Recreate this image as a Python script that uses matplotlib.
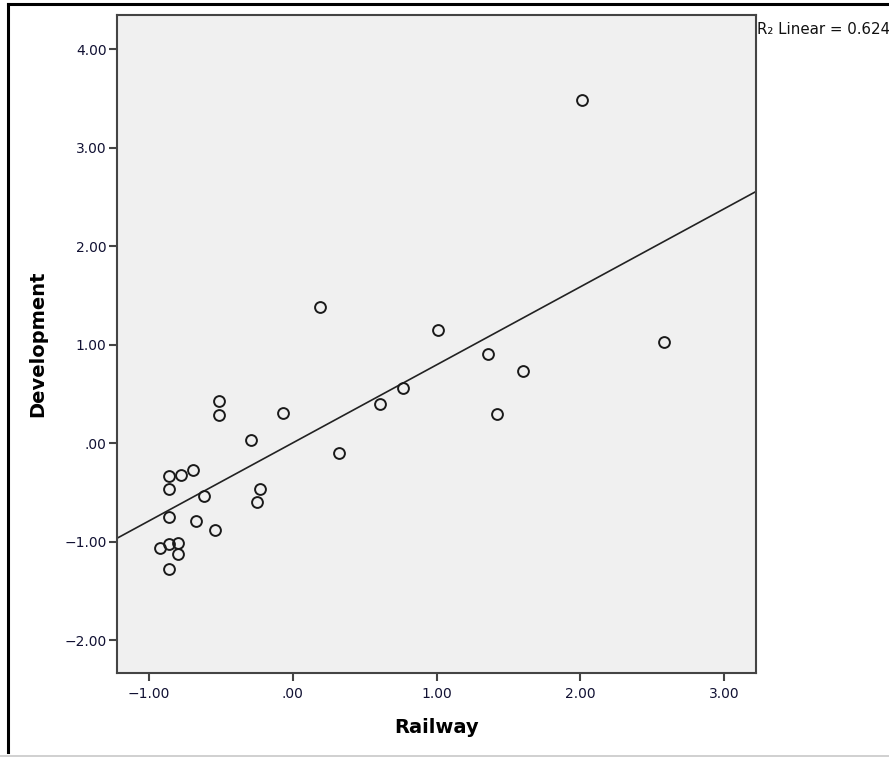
import numpy as np
import matplotlib
matplotlib.use("Agg")
import matplotlib.pyplot as plt
from matplotlib.lines import Line2D

railway = [2.01, 2.58, 0.19, 1.01, 1.36, 1.60, 0.77, 0.61, 1.42, -0.07,
           -0.51, -0.51, -0.29, 0.32, -0.69, -0.78, -0.86, -0.86, -0.62, -0.23,
           -0.25, -0.86, -0.67, -0.54, -0.92, -0.86, -0.80, -0.80, -0.86]
development = [3.49, 1.03, 1.39, 1.15, 0.91, 0.74, 0.56, 0.40, 0.30, 0.31,
               0.43, 0.29, 0.04, -0.10, -0.27, -0.32, -0.33, -0.46, -0.53, -0.46,
               -0.59, -0.75, -0.79, -0.88, -1.06, -1.02, -1.01, -1.12, -1.27]
x_ticks = [-1.0, 0.0, 1.0, 2.0, 3.0]
x_labels = ["\u22121.00", ".00", "1.00", "2.00", "3.00"]
y_ticks = [-2.0, -1.0, 0.0, 1.0, 2.0, 3.0, 4.0]
y_labels = ["\u22122.00", "\u22121.00", ".00", "1.00", "2.00", "3.00", "4.00"]
r2_text = "R\u2082 Linear = 0.624"

W, H = 889, 758
fig = plt.figure(figsize=(W / 100, H / 100), dpi=100)
ax = fig.add_axes([117 / W, 1 - 673 / H, (756 - 117) / W, (673 - 15) / H])
ax.set_facecolor("#f0f0f0")

xlim = (-1.222, 3.222)
ax.set_xlim(*xlim)
ax.set_ylim(-2.33, 4.35)

x = np.array(railway)
y = np.array(development)
slope, intercept = np.polyfit(x, y, 1)
xx = np.array(xlim)
ax.plot(xx, slope * xx + intercept, color="#222222", lw=1.2, zorder=2)

ax.plot(x, y, linestyle="none", marker="o", markersize=7.8,
        markerfacecolor="none", markeredgecolor="#1a1a1a", markeredgewidth=1.4, zorder=3)

ax.set_xticks(x_ticks)
ax.set_xticklabels(x_labels)
ax.set_yticks(y_ticks)
ax.set_yticklabels(y_labels)
ax.tick_params(direction="out", length=6, width=1.5, color="#444444",
               labelsize=10, labelcolor="#111133")
ax.tick_params(axis="x", pad=4)
ax.tick_params(axis="y", pad=1.5)
for s in ax.spines.values():
    s.set_color("#444444")
    s.set_linewidth(1.5)

ax.set_xlabel("Railway", fontsize=14, fontweight="bold", labelpad=12)
ax.set_ylabel("Development", fontsize=14, fontweight="bold", labelpad=12)

fig.text(757 / W, 1 - 29 / H, r2_text, fontsize=10.8, ha="left", va="center", color="#111111")

# window frame
fig.add_artist(Line2D([8 / W, 8 / W], [1 - 4 / H, 1 - 752 / H], transform=fig.transFigure,
                      color="black", lw=2.2))
fig.add_artist(Line2D([8 / W, 1.0], [1 - 4 / H, 1 - 4 / H], transform=fig.transFigure,
                      color="black", lw=2.2))
fig.add_artist(Line2D([0, 1.0], [1 - 756 / H, 1 - 756 / H], transform=fig.transFigure,
                      color="#c8c8c8", lw=1.2))

fig.savefig("out.png", dpi=100)
